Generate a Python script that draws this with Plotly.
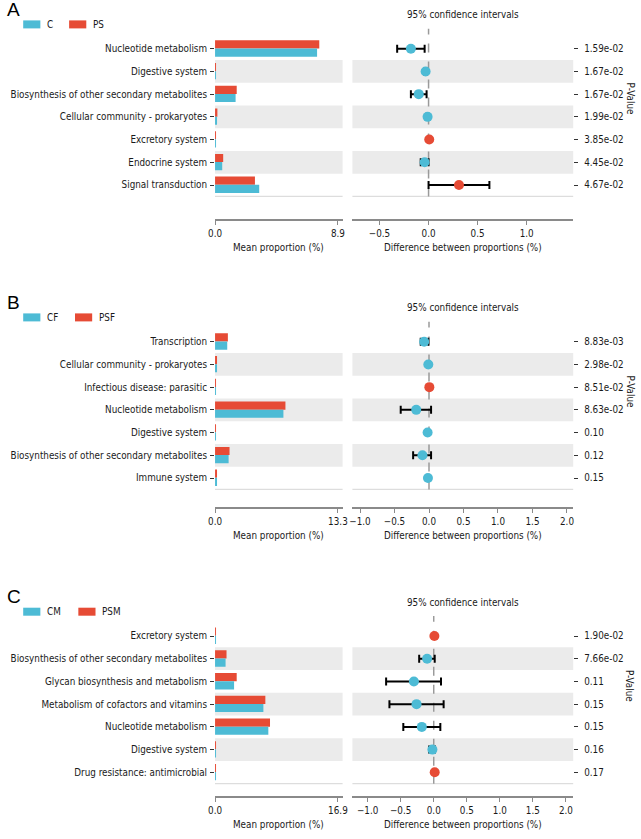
import plotly.graph_objects as go

# ---------------- data ----------------
a_categories = ["Nucleotide metabolism", "Digestive system",
                "Biosynthesis of other secondary metabolites",
                "Cellular community - prokaryotes", "Excretory system",
                "Endocrine system", "Signal transduction"]
a_groups = ["C", "PS"]
a_mean_g1 = [7.39, 0.05, 1.49, 0.14, 0.03, 0.52, 3.20]
a_mean_g2 = [7.55, 0.07, 1.57, 0.17, 0.03, 0.59, 2.89]
a_diff = [-0.18, -0.03, -0.10, -0.01, 0.007, -0.04, 0.31]
a_ci_low = [-0.32, -0.045, -0.18, -0.02, 0.003, -0.08, 0.0]
a_ci_high = [-0.04, -0.015, -0.02, -0.003, 0.011, 0.0, 0.62]
a_pvalues = ["1.59e-02", "1.67e-02", "1.67e-02", "1.99e-02", "3.85e-02", "4.45e-02", "4.67e-02"]
a_mean_max = 8.9
a_diff_ticks = [-0.5, 0.0, 0.5, 1.0]
a_diff_range = [-0.776, 1.474]

b_categories = ["Transcription", "Cellular community - prokaryotes",
                "Infectious disease: parasitic", "Nucleotide metabolism",
                "Digestive system", "Biosynthesis of other secondary metabolites",
                "Immune system"]
b_groups = ["CF", "PSF"]
b_mean_g1 = [1.32, 0.12, 0.03, 7.40, 0.05, 1.47, 0.15]
b_mean_g2 = [1.39, 0.18, 0.03, 7.62, 0.07, 1.57, 0.18]
b_diff = [-0.07, -0.01, 0.005, -0.185, -0.02, -0.095, -0.015]
b_ci_low = [-0.12, -0.02, 0.0, -0.41, -0.03, -0.23, -0.025]
b_ci_high = [-0.01, -0.002, 0.01, 0.03, -0.01, 0.03, -0.005]
b_pvalues = ["8.83e-03", "2.98e-02", "8.51e-02", "8.63e-02", "0.10", "0.12", "0.15"]
b_mean_max = 13.3
b_diff_ticks = [-1.0, -0.5, 0.0, 0.5, 1.0, 1.5, 2.0]
b_diff_range = [-1.11, 2.09]

c_categories = ["Excretory system", "Biosynthesis of other secondary metabolites",
                "Glycan biosynthesis and metabolism",
                "Metabolism of cofactors and vitamins", "Nucleotide metabolism",
                "Digestive system", "Drug resistance: antimicrobial"]
c_groups = ["CM", "PSM"]
c_mean_g1 = [0.03, 1.45, 2.62, 6.65, 7.33, 0.05, 0.04]
c_mean_g2 = [0.03, 1.58, 2.98, 6.92, 7.56, 0.07, 0.05]
c_diff = [0.01, -0.10, -0.30, -0.26, -0.18, -0.02, 0.015]
c_ci_low = [0.005, -0.22, -0.72, -0.67, -0.46, -0.07, 0.01]
c_ci_high = [0.015, 0.015, 0.11, 0.15, 0.10, 0.02, 0.02]
c_pvalues = ["1.90e-02", "7.66e-02", "0.11", "0.15", "0.15", "0.16", "0.17"]
c_mean_max = 16.9
c_diff_ticks = [-1.0, -0.5, 0.0, 0.5, 1.0, 1.5, 2.0]
c_diff_range = [-1.23, 2.11]

panel_letters = ["A", "B", "C"]

# ---------------- style / geometry ----------------
W, H = 641, 839
BLUE = "#4DBBD5"
RED = "#E64B35"
BAND = "#EBEBEB"
SPINE = "#8a8a8a"
TXT = "#1a1a1a"
FONT = "DejaVu Sans Condensed, Liberation Sans Narrow, sans-serif"
FS = 9.8

row_h = 22.72
row1_center = [48.7, 341.7, 636.0]
axis_line_y = [220.0, 508.0, 797.0]
left_px = (212.0, 342.0)
right_px = (352.0, 577.0)
legend_red_x = [63.3, 69.3, 72.7]


def fx(px):
    return px / W


def fy(py):
    return 1 - py / H


panels = [
    dict(cats=a_categories, groups=a_groups, m1=a_mean_g1, m2=a_mean_g2, d=a_diff,
         lo=a_ci_low, hi=a_ci_high, p=a_pvalues, mmax=a_mean_max,
         dticks=a_diff_ticks, drange=a_diff_range),
    dict(cats=b_categories, groups=b_groups, m1=b_mean_g1, m2=b_mean_g2, d=b_diff,
         lo=b_ci_low, hi=b_ci_high, p=b_pvalues, mmax=b_mean_max,
         dticks=b_diff_ticks, drange=b_diff_range),
    dict(cats=c_categories, groups=c_groups, m1=c_mean_g1, m2=c_mean_g2, d=c_diff,
         lo=c_ci_low, hi=c_ci_high, p=c_pvalues, mmax=c_mean_max,
         dticks=c_diff_ticks, drange=c_diff_range),
]

fig = go.Figure()
layout = {}
shapes = []
annotations = []


def ax(k):
    return "" if k == 1 else str(k)


for i, P in enumerate(panels):
    n = len(P["cats"])
    kl, kr = 2 * i + 1, 2 * i + 2
    c = row1_center[i]
    rows_top = c - row_h / 2
    plot_top = rows_top - 8.6
    plot_bot = rows_top + n * row_h
    ydom = [fy(plot_bot), fy(plot_top)]
    yrange = [n - 0.5, -0.5 - 8.6 / row_h]
    pos = list(range(n))

    # bars
    fig.add_trace(go.Bar(orientation="h", x=P["m2"], y=pos, width=0.36, offset=-0.37,
                         marker=dict(color=RED, line=dict(width=0)), showlegend=False,
                         xaxis="x" + ax(kl), yaxis="y" + ax(kl), name=P["groups"][1]))
    fig.add_trace(go.Bar(orientation="h", x=P["m1"], y=pos, width=0.36, offset=-0.01,
                         marker=dict(color=BLUE, line=dict(width=0)), showlegend=False,
                         xaxis="x" + ax(kl), yaxis="y" + ax(kl), name=P["groups"][0]))

    # difference points with CI
    colors = [RED if v > 0 else BLUE for v in P["d"]]
    fig.add_trace(go.Scatter(
        x=P["d"], y=pos, mode="markers",
        marker=dict(color=colors, size=10, line=dict(width=0)),
        error_x=dict(type="data", symmetric=False,
                     array=[h - v for h, v in zip(P["hi"], P["d"])],
                     arrayminus=[v - l for v, l in zip(P["d"], P["lo"])],
                     color="black", thickness=2, width=4),
        showlegend=False, xaxis="x" + ax(kr), yaxis="y" + ax(kr)))

    axis_pos = fy(axis_line_y[i])
    common_x = dict(showline=True, linecolor=SPINE, linewidth=1.5, ticks="outside",
                    ticklen=4, tickwidth=1.2, tickcolor=SPINE, showgrid=False,
                    zeroline=False, anchor="free", position=axis_pos,
                    tickfont=dict(family=FONT, size=FS, color=TXT), fixedrange=True)
    layout["xaxis" + ax(kl)] = dict(common_x, domain=[fx(left_px[0]), fx(left_px[1])],
                                    range=[0, P["mmax"] * 1.038],
                                    tickvals=[0, P["mmax"]],
                                    ticktext=["%.1f" % 0, "%.1f" % P["mmax"]])
    layout["xaxis" + ax(kr)] = dict(common_x, domain=[fx(right_px[0]), fx(right_px[1])],
                                    range=P["drange"], tickvals=P["dticks"],
                                    tickformat=".1f")
    layout["yaxis" + ax(kl)] = dict(domain=ydom, range=yrange, anchor="x" + ax(kl),
                                    tickvals=pos, ticktext=P["cats"], ticks="outside",
                                    ticklen=4, tickwidth=1.2, tickcolor="#333333",
                                    showline=False, showgrid=False, zeroline=False,
                                    ticklabelstandoff=1,
                                    tickfont=dict(family=FONT, size=FS, color=TXT),
                                    fixedrange=True)
    layout["yaxis" + ax(kr)] = dict(domain=ydom, range=yrange, anchor="x" + ax(kr),
                                    side="right", tickvals=pos, ticktext=P["p"],
                                    ticks="outside", ticklen=4, tickwidth=1.2,
                                    tickcolor="#333333", showline=False, showgrid=False,
                                    zeroline=False, ticklabelstandoff=4,
                                    tickfont=dict(family=FONT, size=FS, color=TXT),
                                    fixedrange=True)

    # alternating grey bands
    for r in range(1, n, 2):
        for k in (kl, kr):
            shapes.append(dict(type="rect", xref="x" + ax(k) + " domain", x0=0, x1=1,
                               yref="y" + ax(k), y0=r - 0.5, y1=r + 0.5,
                               fillcolor=BAND, line=dict(width=0), layer="below"))
    # bottom light lines
    for k in (kl, kr):
        shapes.append(dict(type="line", xref="x" + ax(k) + " domain", x0=0, x1=1,
                           yref="y" + ax(k) + " domain", y0=0, y1=0,
                           line=dict(color="#dddddd", width=1.2), layer="below"))
    # zero dashed line
    shapes.append(dict(type="line", xref="x" + ax(kr), x0=0, x1=0,
                       yref="y" + ax(kr) + " domain", y0=0, y1=1,
                       line=dict(color="#9a9a9a", width=1.5, dash="dash"), layer="below"))

    # titles and labels
    annotations.append(dict(text="95% confidence intervals", xref="x" + ax(kr) + " domain",
                            x=0.5, yref="paper", y=fy(c - 33.8), showarrow=False,
                            xanchor="center", yanchor="middle",
                            font=dict(family=FONT, size=FS, color=TXT)))
    annotations.append(dict(text="Mean proportion (%)", xref="x" + ax(kl) + " domain",
                            x=0.5, yref="paper", y=fy(axis_line_y[i] + 27), showarrow=False,
                            xanchor="center", yanchor="middle",
                            font=dict(family=FONT, size=FS, color=TXT)))
    annotations.append(dict(text="Difference between proportions (%)",
                            xref="x" + ax(kr) + " domain", x=0.5, yref="paper",
                            y=fy(axis_line_y[i] + 27), showarrow=False,
                            xanchor="center", yanchor="middle",
                            font=dict(family=FONT, size=FS, color=TXT)))
    annotations.append(dict(text="P-Value", xref="paper", x=fx(635), yref="paper",
                            y=fy(c + 50), showarrow=False, textangle=90,
                            xanchor="center", yanchor="middle", borderpad=0,
                            font=dict(family=FONT, size=FS, color=TXT)))
    annotations.append(dict(text=panel_letters[i], xref="paper", x=fx(-1), yref="paper",
                            y=fy(c - 39.5), showarrow=False, xanchor="left",
                            yanchor="middle", borderpad=0,
                            font=dict(family="Liberation Sans, Arial, sans-serif", size=19,
                                      color="black")))
    # legend
    ly = c - 24.3
    for gx, color, name in ((16.5, BLUE, P["groups"][0]),
                            (legend_red_x[i], RED, P["groups"][1])):
        shapes.append(dict(type="rect", xref="paper", yref="paper",
                           x0=fx(gx), x1=fx(gx + 17.5), y0=fy(ly + 4), y1=fy(ly - 4),
                           fillcolor=color, line=dict(width=0)))
        annotations.append(dict(text=name, xref="paper", x=fx(gx + 22.5), yref="paper",
                                y=fy(ly), showarrow=False, xanchor="left",
                                yanchor="middle",
                                font=dict(family=FONT, size=FS, color=TXT)))

layout.update(dict(
    width=W, height=H, margin=dict(l=0, r=0, t=0, b=0),
    paper_bgcolor="white", plot_bgcolor="rgba(0,0,0,0)",
    barmode="overlay", showlegend=False, shapes=shapes, annotations=annotations,
    font=dict(family=FONT, size=FS, color=TXT),
))
fig.update_layout(**layout)

fig.write_html("out.html", config={"displayModeBar": False},
               post_script="document.body.style.margin='0px';")
